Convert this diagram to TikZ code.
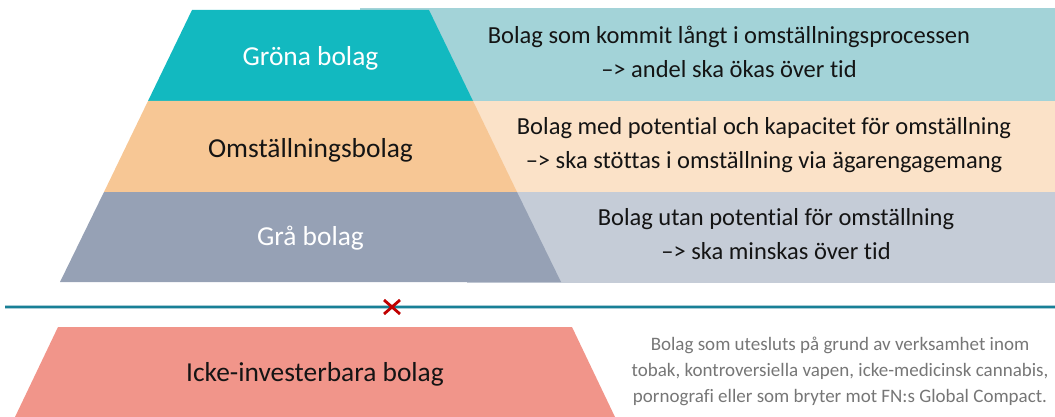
\documentclass[tikz,border=0pt]{standalone}
\usepackage{fontspec}
\setmainfont{Carlito}[Ligatures={NoCommon}]
\definecolor{teal1}{RGB}{18,185,192}
\definecolor{teal2}{RGB}{163,211,216}
\definecolor{orange1}{RGB}{247,199,149}
\definecolor{orange2}{RGB}{251,226,200}
\definecolor{gray1}{RGB}{150,161,181}
\definecolor{gray2}{RGB}{197,204,215}
\definecolor{pink1}{RGB}{241,149,138}
\definecolor{line1}{RGB}{24,128,150}
\definecolor{line2}{RGB}{170,205,215}
\definecolor{xred}{RGB}{192,0,0}
\definecolor{txt}{RGB}{20,20,20}
\definecolor{smalltxt}{RGB}{118,118,118}
\tikzset{
  biglabel/.style={inner sep=0pt, font=\fontsize{27.4}{32}\selectfont},
  desc/.style={inner sep=0pt, align=center, text=txt, font=\fontsize{24.5}{34}\selectfont},
  smalldesc/.style={inner sep=0pt, align=center, text=smalltxt, font=\fontsize{19}{26}\selectfont},
}
\begin{document}
\begin{tikzpicture}[x=1pt,y=-1pt]
\useasboundingbox (0,0) rectangle (1055,417);
% light background boxes
\fill[teal2] (360,8) rectangle (1055,101);
\fill[orange2] (460,101) rectangle (1055,192);
\fill[gray2] (467,192) rectangle (1055,283);
% pyramid
\fill[teal1] (192,10) -- (429,10) -- (473,101) -- (148,101) -- cycle;
\fill[orange1] (148,101) -- (473,101) -- (517,192) -- (104,192) -- cycle;
\fill[gray1] (104,192) -- (517,192) -- (561,282) -- (60,282) -- cycle;
% separator line
\draw[line2, line width=4.5pt] (5,307) -- (1055,307);
\draw[line1, line width=2.7pt] (5,307) -- (1055,307);
\coordinate (xc) at (392,307);
\draw[xred, line width=2.8pt] ([shift={(-8,-7)}]xc) -- ([shift={(8,7)}]xc)
  ([shift={(-8,7)}]xc) -- ([shift={(8,-7)}]xc);
% bottom trapezoid
\fill[pink1] (58,327) -- (572,327) -- (615,417) -- (15,417) -- cycle;
% labels
\node[biglabel, text=white] (gron) at (310.5,58) {Gröna bolag};
\node[biglabel, text=txt] (omst) at (310.5,150) {Omställningsbolag};
\node[biglabel, text=white] (gra) at (310.5,238) {Grå bolag};
\node[biglabel, text=txt] (icke) at (315,374) {Icke-investerbara bolag};
% descriptions
\node[desc] (d1) at (729,52) {Bolag som kommit långt i omställningsprocessen\\–> andel ska ökas över tid};
\node[desc] (d2) at (764,145) {Bolag med potential och kapacitet för omställning\\–> ska stöttas i omställning via ägarengagemang};
\node[desc] (d3) at (776,234) {Bolag utan potential för omställning\\–> ska minskas över tid};
\node[smalldesc] (d4) at (840,371) {Bolag som utesluts på grund av verksamhet inom\\tobak, kontroversiella vapen, icke-medicinsk cannabis,\\pornografi eller som bryter mot FN:s Global Compact.};
\end{tikzpicture}
\end{document}
